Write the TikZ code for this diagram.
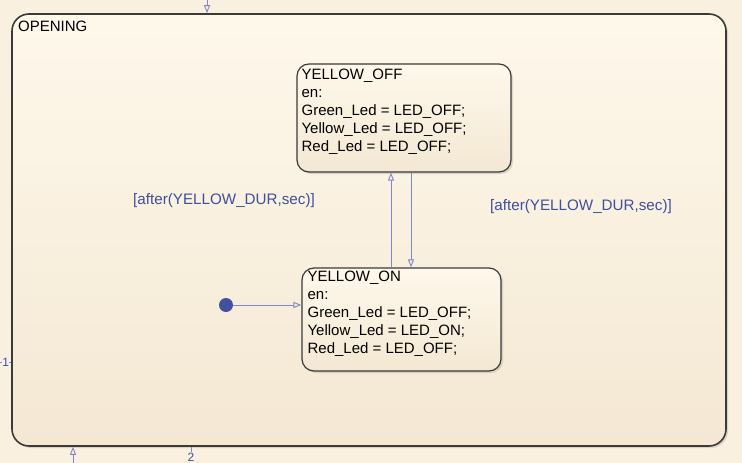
\documentclass[tikz,border=0pt]{standalone}
\usepackage{fontspec}
\setmainfont{Liberation Sans}
\usetikzlibrary{arrows.meta,shadows,calc}
\definecolor{paper}{HTML}{FAF0DF}
\definecolor{boxtop}{HTML}{FEF8EB}
\definecolor{boxbot}{HTML}{F4E8D3}
\definecolor{edge}{HTML}{3A3A3A}
\definecolor{wire}{HTML}{7F88C6}
\definecolor{guardblue}{HTML}{3D4F9E}
\definecolor{dotblue}{HTML}{42509E}
\begin{document}
\begin{tikzpicture}[x=1pt,y=-1pt,
    chart/.style={draw=edge, line width=1.2pt, top color=boxtop, bottom color=boxbot,
        drop shadow={shadow xshift=2pt, shadow yshift=-2pt, opacity=0.25}, inner sep=0pt},
    trans/.style={draw=wire, line width=0.9pt, -{Triangle[open,length=8pt,width=6pt]}},
    wire/.style={draw=wire, line width=0.9pt},
    guard/.style={text=guardblue, font=\fontsize{15.2}{18}\selectfont},
    body/.style={anchor=base west, align=left, inner sep=0pt, font=\fontsize{15}{18}\selectfont}]
    \useasboundingbox[fill=paper] (0,0) rectangle (742,463);
    % outer state OPENING
    \node[chart, line width=1.6pt, rounded corners=17pt, minimum width=714pt, minimum height=432pt] (opening) at (369,230) {};
    \node[body] (openingname) at (18,31) {OPENING};
    % the two inner states (text is set from the baseline of its last line)
    \node[chart, rounded corners=12pt, minimum width=214pt, minimum height=108pt] (off) at (404,118) {};
    \node[body] (offtext) at ([xshift=5pt, yshift=-88pt]off.north west)
        {YELLOW\_OFF\\en:\\Green\_Led = LED\_OFF;\\Yellow\_Led = LED\_OFF;\\Red\_Led = LED\_OFF;};
    \node[chart, rounded corners=12pt, minimum width=199pt, minimum height=103pt] (on) at (401.5,319.5) {};
    \node[body] (ontext) at ([xshift=6pt, yshift=-86.5pt]on.north west)
        {YELLOW\_ON\\en:\\Green\_Led = LED\_OFF;\\Yellow\_Led = LED\_ON;\\Red\_Led = LED\_OFF;};
    % transitions between the states
    \draw[trans] ([xshift=-10.5pt]on.north) -- ([xshift=-10.5pt]on.north |- off.south);
    \draw[trans] ([xshift=9.5pt]on.north |- off.south) -- ([xshift=9.5pt]on.north);
    \node[guard] (guardup) at (224,201) {[after(YELLOW\_DUR,sec)]};
    \node[guard] (guarddown) at (581,207) {[after(YELLOW\_DUR,sec)]};
    % default transition
    \node[circle, fill=dotblue, minimum size=14pt, inner sep=0pt] (init) at (226,305) {};
    \draw[trans] (init) -- (init -| on.west);
    % transitions leaving the picture
    \coordinate (top) at (207,0);
    \draw[trans] (top) -- (top |- opening.north);
    \coordinate (bot) at (73,463);
    \draw[trans] (bot) -- (bot |- opening.south);
    \coordinate (in1) at (0,362);
    \draw[wire] (in1) -- (in1 -| opening.west) node[midway, fill=paper, inner sep=0.5pt, text=guardblue, font=\fontsize{12}{14}\selectfont] {1};
    \coordinate (out2) at (191,452);
    \draw[wire] (out2 |- opening.south) -- (out2) node[below, inner sep=0.5pt, text=guardblue, font=\fontsize{12}{14}\selectfont] {2};
\end{tikzpicture}
\end{document}
